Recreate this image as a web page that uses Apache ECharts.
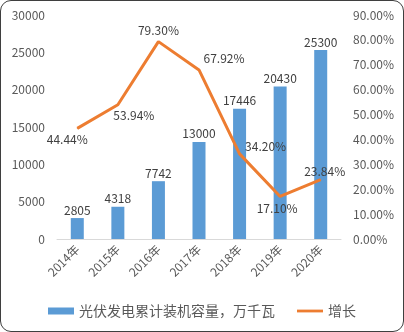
<!DOCTYPE html>
<html>
<head>
<meta charset="utf-8">
<script src="https://cdn.jsdelivr.net/npm/echarts@6/dist/echarts.min.js"></script>
<style>
  html, body { margin: 0; padding: 0; background: #fff; }
  #frame {
    position: absolute; left: 0; top: 0;
    width: 402px; height: 330px;
    border: 1px solid #3f3f3f; border-radius: 11px;
    overflow: hidden; background: #fff;
  }
  #chart { width: 402px; height: 330px; }
</style>
</head>
<body>
<div id="frame"><div id="chart"></div></div>
<script>
// Installed PV capacity (10k kW) and year-on-year growth
const years = ['2014年', '2015年', '2016年', '2017年', '2018年', '2019年', '2020年'];
const capacity = [2805, 4318, 7742, 13000, 17446, 20430, 25300];
const growth = [44.44, 53.94, 79.30, 67.92, 34.20, 17.10, 23.84];
const capacityTicks = [0, 5000, 10000, 15000, 20000, 25000, 30000];
const growthTicks = [0, 10, 20, 30, 40, 50, 60, 70, 80, 90];

const seriesNames = ['光伏发电累计装机容量，万千瓦', '增长'];

// where each growth label sits relative to its point
const growthLabelLayout = [
  { position: 'bottom', offset: [-10, 0] },
  { position: 'bottom', offset: [16, -1] },
  { position: 'top', offset: [0, 0] },
  { position: 'top', offset: [25, 0] },
  { position: 'right', offset: [0, -7] },
  { position: 'bottom', offset: [-3, 0] },
  { position: 'top', offset: [4, 3] }
];

const font = 'Noto Sans CJK SC';
const axisGray = '#595959';
const labelGray = '#404040';

const chart = echarts.init(document.getElementById('chart'));
chart.setOption({
  animation: false,
  textStyle: { fontFamily: font },
  grid: { left: 56, right: 62, top: 14, bottom: 92 },
  legend: {
    bottom: 8,
    left: 'center',
    itemWidth: 26,
    itemHeight: 7,
    itemGap: 22,
    textStyle: { fontFamily: font, fontSize: 14, color: axisGray },
    data: [
      { name: seriesNames[0], icon: 'rect' },
      { name: seriesNames[1], icon: 'path://M0,0H28V3H0Z' }
    ]
  },
  xAxis: {
    type: 'category',
    data: years,
    axisLine: { lineStyle: { color: '#d9d9d9', width: 1 } },
    axisTick: { show: false },
    axisLabel: { rotate: 45, fontSize: 12, color: axisGray, margin: 8, fontFamily: font }
  },
  yAxis: [
    {
      type: 'value',
      min: capacityTicks[0],
      max: capacityTicks[capacityTicks.length - 1],
      interval: capacityTicks[1] - capacityTicks[0],
      splitLine: { show: false },
      axisLine: { show: false },
      axisTick: { show: false },
      axisLabel: {
        fontSize: 12, color: axisGray, margin: 12, fontFamily: font,
        formatter: v => String(v)
      }
    },
    {
      type: 'value',
      min: growthTicks[0],
      max: growthTicks[growthTicks.length - 1],
      interval: growthTicks[1] - growthTicks[0],
      splitLine: { show: false },
      axisLine: { show: false },
      axisTick: { show: false },
      axisLabel: {
        fontSize: 12, color: axisGray, margin: 12, fontFamily: font,
        formatter: v => v.toFixed(2) + '%'
      }
    }
  ],
  series: [
    {
      name: seriesNames[0],
      type: 'bar',
      yAxisIndex: 0,
      barWidth: 13,
      itemStyle: { color: '#5B9BD5' },
      label: {
        show: true, position: 'top', distance: 2,
        fontSize: 12, color: labelGray, fontFamily: font
      },
      data: capacity
    },
    {
      name: seriesNames[1],
      type: 'line',
      yAxisIndex: 1,
      symbol: 'circle',
      symbolSize: 1,
      showSymbol: true,
      lineStyle: { color: '#ED7D31', width: 3 },
      itemStyle: { color: '#ED7D31' },
      z: 3,
      data: growth.map((v, i) => ({
        value: v,
        label: {
          show: true,
          position: growthLabelLayout[i].position,
          offset: growthLabelLayout[i].offset,
          distance: 5,
          fontSize: 12, color: labelGray, fontFamily: font,
          formatter: p => Number(p.value).toFixed(2) + '%'
        }
      }))
    }
  ]
});
</script>
</body>
</html>
